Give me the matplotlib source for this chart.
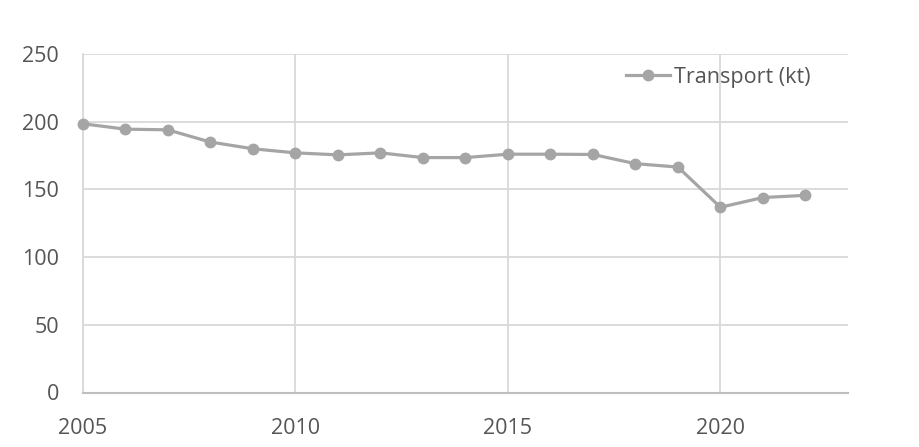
import matplotlib.pyplot as plt

years = list(range(2005, 2023))
transport = [198.5, 194.5, 194, 185, 180, 177, 175.5, 177, 173.5, 173.5,
             176, 176, 175.8, 169, 166.5, 136.8, 144, 145.6]
xticks = [2005, 2010, 2015, 2020]
yticks = [0, 50, 100, 150, 200, 250]

plt.rcParams['font.family'] = ['Open Sans', 'DejaVu Sans']
text_col = '#555555'
grid_col = '#D9D9D9'
line_col = '#A5A5A5'

fig = plt.figure(figsize=(9.2, 4.47), dpi=100)
ax = fig.add_axes([82.7/920, 1-392.5/447, (848-82.7)/920, (392.5-54)/447])

ax.plot(years, transport, color=line_col, lw=2.3, marker='o', ms=7.5,
        label='Transport (kt)', zorder=3, clip_on=False)

ax.set_xlim(2005, 2023)
ax.set_ylim(0, 250)
ax.set_xticks(xticks)
ax.set_yticks(yticks)
ax.grid(True, color=grid_col, lw=1.3)
ax.set_axisbelow(True)
for s in ['top', 'right']:
    ax.spines[s].set_visible(False)
ax.spines['left'].set_color(grid_col)
ax.spines['left'].set_linewidth(1.3)
ax.spines['bottom'].set_color('#BFBFBF')
ax.spines['bottom'].set_linewidth(1.5)
ax.tick_params(length=0, labelsize=15.5, labelcolor=text_col)
ax.tick_params(axis='y', pad=17)
ax.tick_params(axis='x', pad=18)

leg = ax.legend(loc='center right', bbox_to_anchor=(0.962, 0.932), frameon=False,
                fontsize=15.5, handlelength=2.0, handletextpad=0.2, borderaxespad=0)
for t in leg.get_texts():
    t.set_color(text_col)

fig.savefig('out.png', dpi=100)
